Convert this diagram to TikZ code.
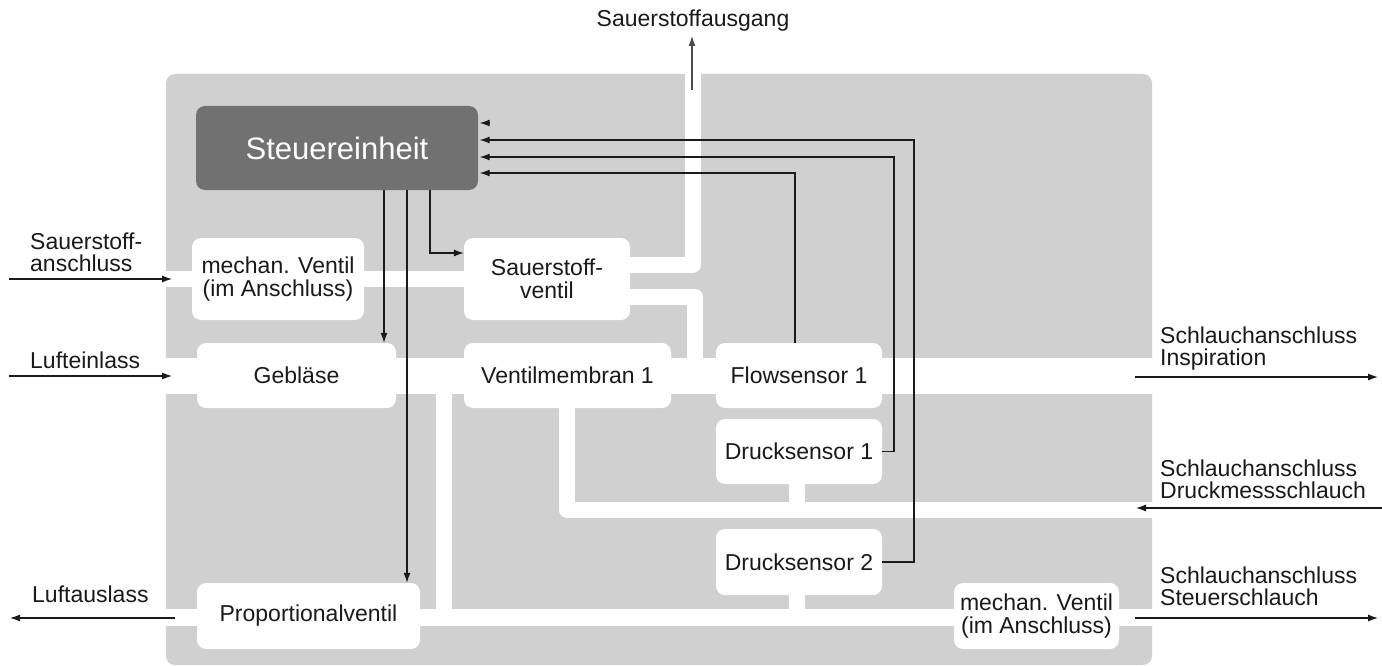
\documentclass[tikz,border=0pt]{standalone}
\usepackage{fontspec}
\setmainfont{Liberation Sans}
\usetikzlibrary{arrows.meta}
\definecolor{bg}{RGB}{208,208,208}
\definecolor{darkbox}{RGB}{113,113,113}
\definecolor{ink}{RGB}{26,26,26}
\begin{document}
\begin{tikzpicture}[x=1pt,y=-1pt,
  box/.style={fill=white, rounded corners=9pt, inner sep=0pt, align=center, text=ink,
    font=\fontsize{23}{22.5}\selectfont},
  lbl/.style={text=ink, inner sep=0pt, align=left, font=\fontsize{23}{22}\selectfont},
  chan/.style={draw=white, line width=16pt, line join=round},
  wire/.style={draw=ink, line width=1.1pt},
  arr/.style={wire, -{Latex[length=10pt,width=7pt]}},
]
\useasboundingbox (0,0) rectangle (1382,666);
% background
\fill[bg, rounded corners=9pt] (166,74) rectangle (1152,665);
% channels
\draw[chan] (160,279) -- (470,279);
\draw[chan] (620,265) -- (692.5,265) -- (692.5,70);
\draw[chan] (620,296.5) -- (694.5,296.5) -- (694.5,380);
\draw[chan, line width=36pt] (160,376) -- (1158,376);
\draw[chan] (444,376) -- (444,617);
\draw[chan] (566.5,400) -- (566.5,509.5) -- (1158,509.5);
\draw[chan] (797,480) -- (797,512);
\draw[chan] (797,590) -- (797,617);
\draw[chan, line width=17pt] (160,617.5) -- (1158,617.5);
% boxes
\node[box, fill=darkbox, text=white, minimum width=282pt, minimum height=84pt,
  font=\fontsize{31}{31}\selectfont] (steu) at (337,148) {Steuereinheit};
\node[box, minimum width=172pt, minimum height=82pt] (mv1) at (278,279) {mechan. Ventil\\(im Anschluss)};
\node[box, minimum width=166pt, minimum height=82pt] (sov) at (547,279) {Sauerstoff-\\ventil};
\node[box, minimum width=199pt, minimum height=65pt] (geb) at (296.5,375.5) {Gebläse};
\node[box, minimum width=207pt, minimum height=65pt] (vm1) at (567.5,375.5) {Ventilmembran 1};
\node[box, minimum width=166pt, minimum height=65pt] (fs1) at (799,375.5) {Flowsensor 1};
\node[box, minimum width=166pt, minimum height=65pt] (ds1) at (799,451.5) {Drucksensor 1};
\node[box, minimum width=166pt, minimum height=66pt] (ds2) at (799,562) {Drucksensor 2};
\node[box, minimum width=223pt, minimum height=66pt] (prv) at (308.5,616) {Proportionalventil};
\node[box, minimum width=165pt, minimum height=66pt] (mv2) at (1036.5,616) {mechan. Ventil\\(im Anschluss)};
% helper coordinates
\coordinate (x384) at (384,0);
\coordinate (x407) at (407,0);
\coordinate (x430) at (430,0);
\coordinate (x795) at (795,0);
\coordinate (x894) at (894,0);
\coordinate (x914) at (914,0);
\coordinate (y123) at (0,123);
\coordinate (y140) at (0,140);
\coordinate (y157) at (0,157);
\coordinate (y173) at (0,173);
\coordinate (y253) at (0,253);
\coordinate (lone) at (490,123);
% control wires
\draw[arr] (steu.south -| x384) -- (geb.north -| x384);
\draw[arr] (steu.south -| x407) -- (prv.north -| x407);
\draw[arr] (steu.south -| x430) |- (sov.west |- y253);
\draw[arr, shorten >=1.5pt] (fs1.north -| x795) |- (steu.east |- y173);
\draw[arr, shorten >=1.5pt] (ds1.east) -| (x894 |- y157) -- (steu.east |- y157);
\draw[arr, shorten >=1.5pt] (ds2.east) -| (x914 |- y140) -- (steu.east |- y140);
\draw[arr, shorten >=1.5pt] (lone) -- (steu.east |- y123);
% external ports
\coordinate (o2a) at (692,90);
\coordinate (o2b) at (692,36);
\coordinate (o2ia) at (9,279);
\coordinate (o2ib) at (172,279);
\coordinate (aira) at (9,376);
\coordinate (airb) at (172,376);
\coordinate (outa) at (175,618);
\coordinate (outb) at (10,618);
\coordinate (insa) at (1135,377);
\coordinate (insb) at (1378,377);
\coordinate (druA) at (1382,508);
\coordinate (druB) at (1136,508);
\coordinate (steA) at (1135,618);
\coordinate (steB) at (1378,618);
\draw[arr, draw=black!70] (o2a) -- (o2b);
\draw[arr] (o2ia) -- (o2ib);
\draw[arr] (aira) -- (airb);
\draw[arr] (outa) -- (outb);
\draw[arr] (insa) -- (insb);
\draw[arr] (druA) -- (druB);
\draw[arr] (steA) -- (steB);
% labels (base anchor = baseline of last line)
\node[lbl, anchor=base] (lo2out) at (693,27) {Sauerstoffausgang};
\node[lbl, anchor=base west] (lo2in) at (30,271) {Sauerstoff-\\anschluss};
\node[lbl, anchor=base west] (lairin) at (30,368) {Lufteinlass};
\node[lbl, anchor=base west] (lairout) at (32,602) {Luftauslass};
\node[lbl, anchor=base west] (lins) at (1160,365) {Schlauchanschluss\\Inspiration};
\node[lbl, anchor=base west] (ldru) at (1160,498) {Schlauchanschluss\\Druckmessschlauch};
\node[lbl, anchor=base west] (lste) at (1160,605) {Schlauchanschluss\\Steuerschlauch};
\end{tikzpicture}
\end{document}
